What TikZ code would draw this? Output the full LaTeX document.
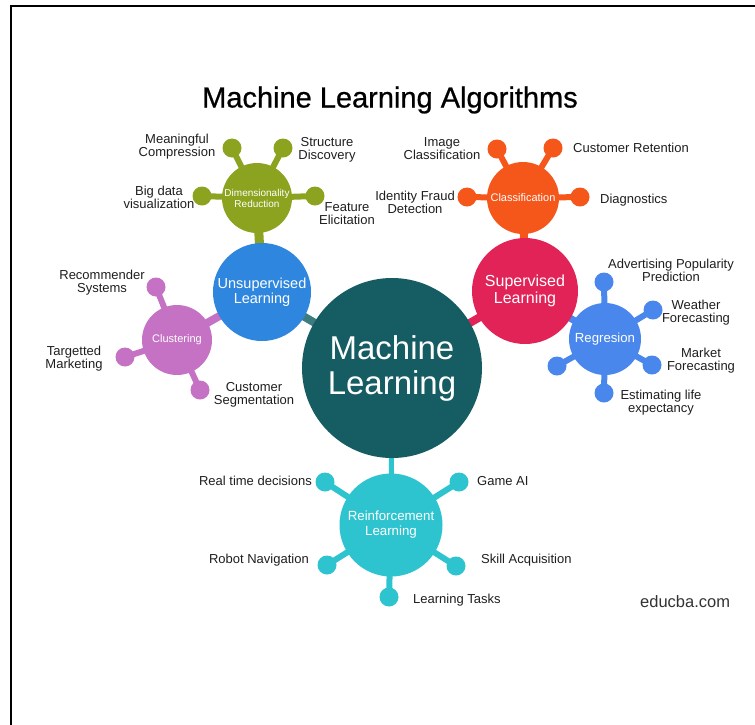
\documentclass[tikz,border=0pt]{standalone}
\usepackage{fontspec}
\setmainfont{Liberation Sans}
\newfontfamily\titlefont[FakeBold=0.7]{Liberation Sans}
\usetikzlibrary{backgrounds}
\definecolor{mlteal}{HTML}{165C63}
\definecolor{mlstem}{HTML}{3E7D7F}
\definecolor{unsupblue}{HTML}{2E86DE}
\definecolor{dimgreen}{HTML}{8BA31E}
\definecolor{classorange}{HTML}{F5561A}
\definecolor{supred}{HTML}{E12357}
\definecolor{regblue}{HTML}{4A87EC}
\definecolor{clustpink}{HTML}{C572C4}
\definecolor{reincyan}{HTML}{2EC4CF}
\definecolor{lbltext}{HTML}{1E1E1E}
\tikzset{
  hub/.style={circle, inner sep=0pt, text=white, align=center},
  sat/.style={circle, inner sep=0pt, minimum size=19pt},
  lbl/.style={font=\fontsize{13}{13}\selectfont, text=lbltext, align=center, inner sep=0pt},
  satstem/.style={line width=6pt},
}
\begin{document}
\begin{tikzpicture}[x=1pt, y=-1pt]
\useasboundingbox (0,0) rectangle (755,724);
% frame
\coordinate (fr1) at (755,6);
\coordinate (fr2) at (11,6);
\coordinate (fr3) at (11,724);
\draw[line width=2.6pt, line cap=rect] (fr1) -- (fr2) -- (fr3);

% title
\node[font=\titlefont\fontsize{29}{30}\selectfont, text=black] (title) at (390,100) {Machine Learning Algorithms};

% hubs
\node[hub, fill=mlteal, minimum size=180pt, font=\fontsize{33}{35}\selectfont] (ml) at (392,368) {Machine\\Learning};
\node[hub, fill=unsupblue, minimum size=98pt, font=\fontsize{14.5}{15}\selectfont] (unsup) at (262,292) {Unsupervised\\Learning};
\node[hub, fill=supred, minimum size=106pt, font=\fontsize{16}{17}\selectfont] (sup) at (525,291) {Supervised\\Learning};
\node[hub, fill=dimgreen, minimum size=70pt, font=\fontsize{10}{11}\selectfont] (dim) at (257,198) {Dimensionality\\Reduction};
\node[hub, fill=classorange, minimum size=72pt, font=\fontsize{11}{12}\selectfont] (class) at (523,198) {Classification};
\node[hub, fill=regblue, minimum size=72pt, font=\fontsize{13.2}{14}\selectfont] (reg) at (605,339) {Regresion};
\node[hub, fill=clustpink, minimum size=70pt, font=\fontsize{11}{12}\selectfont] (clust) at (177,340) {Clustering};
\node[hub, fill=reincyan, minimum size=103pt, font=\fontsize{13.3}{15}\selectfont] (reinf) at (391,525) {Reinforcement\\Learning};

% satellites: dimensionality reduction
\node[sat, fill=dimgreen] (d1) at (232,148) {};
\node[sat, fill=dimgreen] (d2) at (283,148) {};
\node[sat, fill=dimgreen] (d3) at (202,196) {};
\node[sat, fill=dimgreen] (d4) at (315,196) {};
% classification
\node[sat, fill=classorange] (c1) at (497,149) {};
\node[sat, fill=classorange] (c2) at (553,148) {};
\node[sat, fill=classorange] (c3) at (467,197) {};
\node[sat, fill=classorange] (c4) at (580,197) {};
% regression
\node[sat, fill=regblue] (r1) at (604,282) {};
\node[sat, fill=regblue] (r2) at (653,310) {};
\node[sat, fill=regblue] (r3) at (652,365) {};
\node[sat, fill=regblue] (r4) at (604,393) {};
\node[sat, fill=regblue] (r5) at (557,366) {};
% clustering
\node[sat, fill=clustpink] (k1) at (156,287) {};
\node[sat, fill=clustpink] (k2) at (125,357) {};
\node[sat, fill=clustpink] (k3) at (200,390) {};
% reinforcement
\node[sat, fill=reincyan] (e1) at (325,482) {};
\node[sat, fill=reincyan] (e2) at (459,482) {};
\node[sat, fill=reincyan] (e3) at (327,565) {};
\node[sat, fill=reincyan] (e4) at (456,566) {};
\node[sat, fill=reincyan] (e5) at (389,597) {};

% stems
\begin{scope}[on background layer]
  \draw[line width=8pt, mlstem] (unsup.center) -- (ml.center);
  \draw[line width=8pt, supred] (sup.center) -- (ml.center);
  \draw[line width=5pt, reincyan] (reinf.center) -- (ml.center);
  \draw[line width=9pt, dimgreen] (dim.center) -- (unsup.center);
  \draw[line width=8pt, clustpink] (clust.center) -- (unsup.center);
  \draw[line width=8pt, classorange] (class.center) -- (sup.center);
  \draw[line width=7pt, regblue] (reg.center) -- (sup.center);
  \foreach \s in {d1,d2,d3,d4} \draw[satstem, dimgreen] (dim.center) -- (\s.center);
  \foreach \s in {c1,c2,c3,c4} \draw[satstem, classorange] (class.center) -- (\s.center);
  \foreach \s in {r1,r2,r3,r4,r5} \draw[satstem, regblue] (reg.center) -- (\s.center);
  \foreach \s in {k1,k2,k3} \draw[satstem, clustpink] (clust.center) -- (\s.center);
  \foreach \s in {e1,e2,e3,e4,e5} \draw[satstem, reincyan] (reinf.center) -- (\s.center);
\end{scope}

% labels
\node[lbl] (ld1) at (177,147) {Meaningful\\Compression};
\node[lbl] (ld2) at (327,150) {Structure\\Discovery};
\node[lbl] (ld3) at (159,197) {Big data\\visualization};
\node[lbl] (ld4) at (347,214) {Feature\\Elicitation};

\node[lbl] (lc1) at (442,149) {Image\\Classification};
\node[lbl, anchor=west] (lc2) at (573,148) {Customer Retention};
\node[lbl] (lc3) at (415,202) {Identity Fraud\\Detection};
\node[lbl, anchor=west] (lc4) at (600,200) {Diagnostics};

\node[lbl] (lr1) at (671,270) {Advertising Popularity\\Prediction};
\node[lbl] (lr2) at (696,313) {Weather\\Forecasting};
\node[lbl] (lr3) at (701,361) {Market\\Forecasting};
\node[lbl] (lr4) at (661,403) {Estimating life\\expectancy};

\node[lbl] (lk1) at (102,283) {Recommender\\Systems};
\node[lbl] (lk2) at (74,359) {Targetted\\Marketing};
\node[lbl] (lk3) at (254,395) {Customer\\Segmentation};

\node[lbl, anchor=east] (le1) at (312,481) {Real time decisions};
\node[lbl, anchor=west] (le2) at (477,481) {Game AI};
\node[lbl, anchor=east] (le3) at (309,560) {Robot Navigation};
\node[lbl, anchor=west] (le4) at (481,560) {Skill Acquisition};
\node[lbl, anchor=west] (le5) at (413,600) {Learning Tasks};

\node[font=\fontsize{16.5}{17}\selectfont, text=black!80, anchor=west, inner sep=0pt] (site) at (640,602) {educba.com};
\end{tikzpicture}
\end{document}
